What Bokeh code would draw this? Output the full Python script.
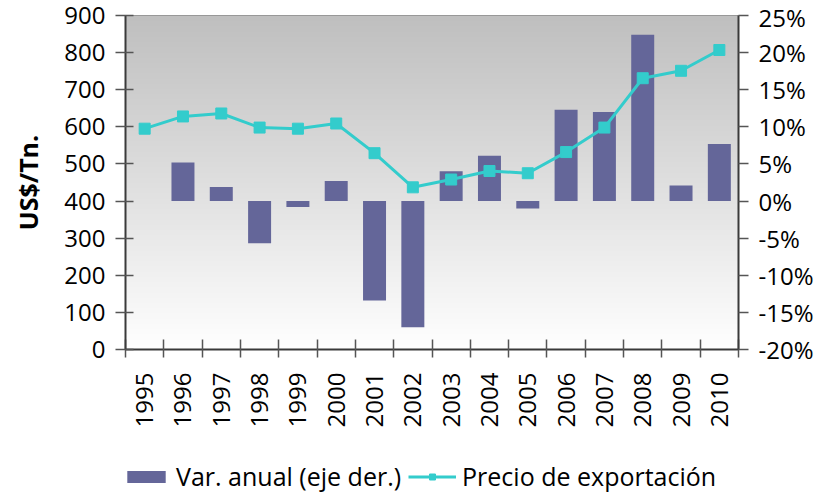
import numpy as np
from bokeh.plotting import figure
from bokeh.layouts import column
from bokeh.models import (Range1d, LinearAxis, FixedTicker, Legend, LegendItem,
                          PrintfTickFormatter, Label)
from bokeh.embed import file_html
from bokeh.resources import INLINE

# ---- data ----
years = ["1995", "1996", "1997", "1998", "1999", "2000", "2001", "2002",
         "2003", "2004", "2005", "2006", "2007", "2008", "2009", "2010"]
price = [595, 628, 636, 598, 595, 609, 529, 437,
         458, 481, 475, 532, 598, 731, 751, 807]
var_pct = [0.0, 5.2, 1.9, -5.7, -0.8, 2.7, -13.4, -17.0,
           4.0, 6.1, -1.0, 12.3, 12.0, 22.4, 2.1, 7.7]
left_ticks = [0, 100, 200, 300, 400, 500, 600, 700, 800, 900]
right_ticks = [-20, -15, -10, -5, 0, 5, 10, 15, 20, 25]
title_text = "(1995-2010)"
bar_label = "Var. anual (eje der.)"
line_label = "Precio de exportación"

FONT = "Open Sans"
BAR = "#646699"
LINE = "#33CCCC"
AX = "#3a3a3a"

xs = list(range(len(years)))
bounds = [i - 0.5 for i in range(len(years) + 1)]

MAIN_H = 430
p = figure(width=837, height=MAIN_H, output_backend="svg", toolbar_location=None,
           x_range=Range1d(bounds[0], bounds[-1]),
           y_range=Range1d(left_ticks[0], left_ticks[-1]),
           min_border_left=125, min_border_right=99, min_border_top=15,
           min_border_bottom=MAIN_H - 352, x_axis_type=None, y_axis_type=None)
p.extra_y_ranges = {"pct": Range1d(right_ticks[0], right_ticks[-1])}
p.grid.visible = False
p.outline_line_color = "#8c8c8c"
p.outline_line_width = 1
p.background_fill_color = "white"
p.border_fill_color = "white"

# gradient background of plot area
n = 256
g = np.linspace(255, 191, n).astype(np.uint8)
img = np.empty((n, 1), dtype=np.uint32)
view = img.view(dtype=np.uint8).reshape((n, 1, 4))
view[:, 0, 0] = g
view[:, 0, 1] = g
view[:, 0, 2] = g
view[:, 0, 3] = 255
p.image_rgba(image=[img], x=bounds[0], y=left_ticks[0],
             dw=bounds[-1] - bounds[0], dh=left_ticks[-1] - left_ticks[0],
             level="image")

# bars (right axis)
bars = p.vbar(x=xs, top=var_pct, bottom=0, width=0.6, y_range_name="pct",
              fill_color=BAR, line_color=None)

# line (left axis)
ln = p.line(xs, price, line_color=LINE, line_width=3)
sc = p.scatter(xs, price, marker="square", size=11, fill_color=LINE,
               line_color=LINE)

# axes
def style(ax):
    ax.axis_line_color = AX
    ax.axis_line_width = 2
    ax.major_tick_line_color = "#555555"
    ax.major_tick_line_width = 1.5
    ax.minor_tick_line_color = None
    ax.major_label_text_font = FONT
    ax.major_label_text_font_size = "24px"
    ax.major_label_text_color = "black"

yl = LinearAxis(ticker=FixedTicker(ticks=left_ticks))
style(yl)
yl.major_tick_in = 8
yl.major_tick_out = 10
yl.major_label_standoff = 10
yl.axis_label = "US$/Tn."
yl.axis_label_text_font = FONT
yl.axis_label_text_font_size = "25px"
yl.axis_label_text_font_style = "bold"
yl.axis_label_text_color = "black"
yl.axis_label_standoff = 16
p.add_layout(yl, "left")

yr = LinearAxis(y_range_name="pct", ticker=FixedTicker(ticks=right_ticks),
                formatter=PrintfTickFormatter(format="%d%%"))
style(yr)
yr.major_tick_in = 0
yr.major_tick_out = 10
yr.major_label_standoff = 10
p.add_layout(yr, "right")

xa = LinearAxis(ticker=FixedTicker(ticks=xs, minor_ticks=bounds))
style(xa)
xa.major_tick_in = 0
xa.major_tick_out = 0
xa.minor_tick_line_color = "#555555"
xa.minor_tick_line_width = 1.5
xa.minor_tick_in = 10
xa.minor_tick_out = 8
xa.major_label_overrides = {i: y for i, y in zip(xs, years)}
xa.major_label_orientation = np.pi / 2
xa.major_label_standoff = 15
p.add_layout(xa, "below")

# partially visible title at the very top (cut by the top edge as in the reference)
title = Label(x=422 - 125, y=337 + 15, x_units="screen", y_units="screen",
              text=title_text, text_font=FONT, text_font_style="bold",
              text_font_size="28px", text_align="center",
              text_baseline="alphabetic", text_color="black")
p.add_layout(title)

# ---- legend strip (separate figure so the legend is not clipped) ----
LEG_H = 492 - MAIN_H
lf = figure(width=837, height=LEG_H, output_backend="svg", toolbar_location=None,
            x_range=Range1d(bounds[0], bounds[-1]),
            y_range=Range1d(left_ticks[-1] * 10, left_ticks[-1] * 10 + 1),
            min_border=0, x_axis_type=None, y_axis_type=None)
lf.grid.visible = False
lf.outline_line_color = None
lf.background_fill_color = "white"
lf.border_fill_color = "white"
# same series, kept out of this strip's visible range: only used for legend swatches
lb = lf.vbar(x=xs, top=var_pct, bottom=0, width=0.6, fill_color=BAR, line_color=None)
ll = lf.line(xs, price, line_color=LINE, line_width=3)
ls = lf.scatter(xs, price, marker="square", size=11, fill_color=LINE,
                line_color=LINE)
legend = Legend(items=[LegendItem(label=bar_label, renderers=[lb]),
                       LegendItem(label=line_label, renderers=[ll, ls])],
                orientation="horizontal", location=(-3, -1),
                padding=0, margin=0, spacing=7, label_standoff=6,
                glyph_width=48, glyph_height=15,
                label_text_font=FONT, label_text_font_size="25px",
                label_text_color="black",
                border_line_color=None, background_fill_alpha=0)
lf.add_layout(legend, "center")

layout = column(p, lf, spacing=0)
open("out.html", "w").write(file_html(layout, INLINE))
